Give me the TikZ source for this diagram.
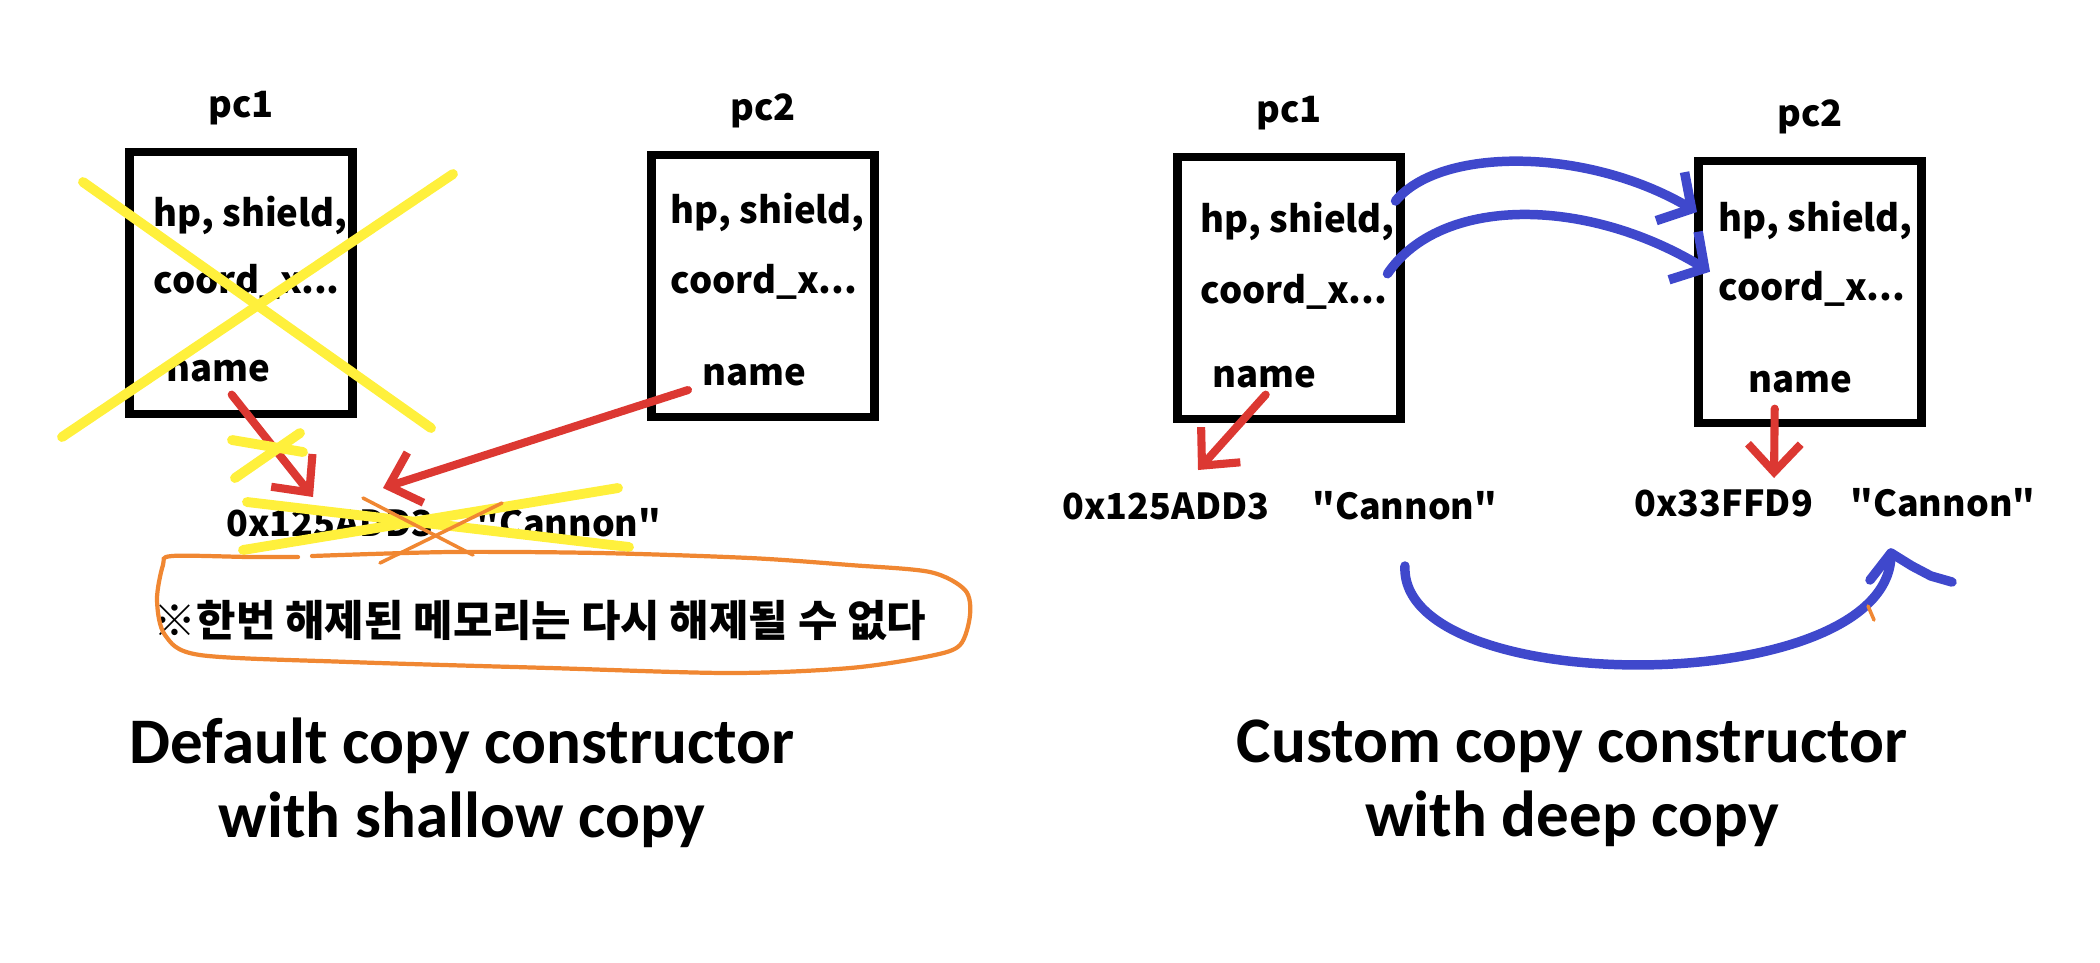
\documentclass[tikz,border=0pt]{standalone}
\usepackage{fontspec}
\setmainfont{Carlito}
\newfontfamily\kofont{Noto Sans CJK KR}
\usetikzlibrary{arrows.meta,positioning,calc}

\definecolor{penred}{RGB}{220,56,50}
\definecolor{penblue}{RGB}{63,72,204}
\definecolor{penyellow}{RGB}{255,240,60}
\definecolor{penorange}{RGB}{240,135,50}

\begin{document}
\begin{tikzpicture}[x=0.1mm, y=-0.1mm,
        node distance = 2.2mm,
        memory/.style = {draw, line width=2.3pt, minimum width=22.3mm, minimum height=26.2mm, inner sep=0pt},
        objname/.style = {inner sep=0pt, font=\kofont\bfseries\fontsize{10.3}{12}\selectfont},
        field/.style = {anchor=west, inner sep=0pt, font=\kofont\bfseries\fontsize{10.4}{12}\selectfont},
        heap/.style = {anchor=west, inner sep=0pt, font=\kofont\bfseries\fontsize{10.2}{12}\selectfont},
        caption/.style = {align=center, inner sep=0pt, font=\bfseries\fontsize{18.5}{21}\selectfont},
        pointer/.style = {draw=penred, line width=2.3pt, line cap=round, line join=round,
                          -{Straight Barb[length=8pt, width=15pt]}},
        copyline/.style = {draw=penblue, line width=2.7pt, line cap=round, line join=round},
        strike/.style = {draw=penyellow, line width=2.8pt, line cap=round},
        scribble/.style = {draw=penorange, line width=1pt, line cap=round},
                            ]
    \useasboundingbox (0,0) rectangle (2100,962);

    % default copy constructor
    \node[memory] (lpc1) at (241,283) {};
    \node[memory] (lpc2) at (763,286) {};
    \node[objname, above=of lpc1] (lt1) {pc1};
    \node[objname, above=of lpc2] (lt2) {pc2};
    \node[field] (lhp1) at (153,215) {hp, shield,};
    \node[field] (lco1) at (153,282) {coord\_x...};
    \node[field] (lname1) at (166,371) {name};
    \node[field] (lhp2) at (670,212) {hp, shield,};
    \node[field] (lco2) at (670,282) {coord\_x...};
    \node[field] (lname2) at (702,375) {name};
    \node[heap] (laddr) at (226,523) {0x125ADD3};
    \node[heap] (lstr) at (476,523) {"Cannon"};
    \node[font=\kofont\bfseries\fontsize{12.2}{14}\selectfont] (notice) at (540,620)
        {※한번 해제된 메모리는 다시 해제될 수 없다};
    \node[caption] (lcap) at (462,783) {Default copy constructor\\with shallow copy};

    \coordinate (lhit1) at (313,497);
    \coordinate (lhit2) at (383,488);
    \draw[pointer] ($(lname1.south)+(13,12)$) -- (lhit1);
    \draw[pointer] ($(lname2.west)+(-14,15)$) -- (lhit2);

    % crossed out
    \draw[strike] (83,182) -- (431,428);
    \draw[strike] (453,174) -- (62,437);
    \draw[strike] (232,440) -- (303,452);
    \draw[strike] (235,478) -- (300,433);
    \draw[strike] (247,502) -- (629,547);
    \draw[strike] (243,550) -- (618,488);
    \draw[scribble] (363,498) -- (473,555);
    \draw[scribble] (502,503) -- (380,563);
    \draw[scribble, line width=1.2pt] plot[smooth] coordinates {(312,556) (450,552) (600,553)
        (750,558) (850,565) (930,572) (965,590) (970,615) (960,645) (930,656) (850,668)
        (730,673) (550,668) (350,662) (200,655) (165,635) (157,600) (163,565) (172,556)
        (250,557) (298,557)};

    % custom copy constructor
    \node[memory] (rpc1) at (1289,288) {};
    \node[memory] (rpc2) at (1810,292) {};
    \node[objname, above=of rpc1] (rt1) {pc1};
    \node[objname, above=of rpc2] (rt2) {pc2};
    \node[field] (rhp1) at (1200,221) {hp, shield,};
    \node[field] (rco1) at (1200,292) {coord\_x...};
    \node[field] (rname1) at (1212,377) {name};
    \node[field] (rhp2) at (1718,220) {hp, shield,};
    \node[field] (rco2) at (1718,289) {coord\_x...};
    \node[field] (rname2) at (1748,382) {name};
    \node[heap] (raddr1) at (1062,506) {0x125ADD3};
    \node[heap] (rstr1) at (1312,506) {"Cannon"};
    \node[heap] (raddr2) at (1634,503) {0x33FFD9};
    \node[heap] (rstr2) at (1850,503) {"Cannon"};
    \node[caption] (rcap) at (1572,783) {Custom copy constructor\\with deep copy};

    \coordinate (rhit1) at (1198,470);
    \coordinate (rhit2) at (1774,478);
    \draw[pointer] ($(rname1.south)+(1,6)$) -- (rhit1);
    \draw[pointer] ($(rname2.south)+(-26,15)$) -- (rhit2);

    \draw[copyline, -{Straight Barb[length=7pt, width=16pt]}] (rhp1.north east)
        .. controls (1440,147) and (1586,147) .. ($(rhp2.west)+(-21,-8)$);
    \draw[copyline, -{Straight Barb[length=7pt, width=16pt]}] (rco1.north east)
        .. controls (1440,196) and (1585,196) .. ($(rco2.north west)+(-8,1)$);

    \coordinate (rtip) at ($(rstr2.south west)+(41,35)$);
    \draw[copyline] ($(rstr1.south)+(0,45)$) .. controls (1399,700) and (1893,700) .. (rtip);
    \draw[copyline] (rtip) ++(-21,27) -- (rtip) -- ++(21,13) -- ++(19,10) -- ++(21,6);
    \draw[scribble] (1868,606) -- (1874,620);
\end{tikzpicture}
\end{document}
